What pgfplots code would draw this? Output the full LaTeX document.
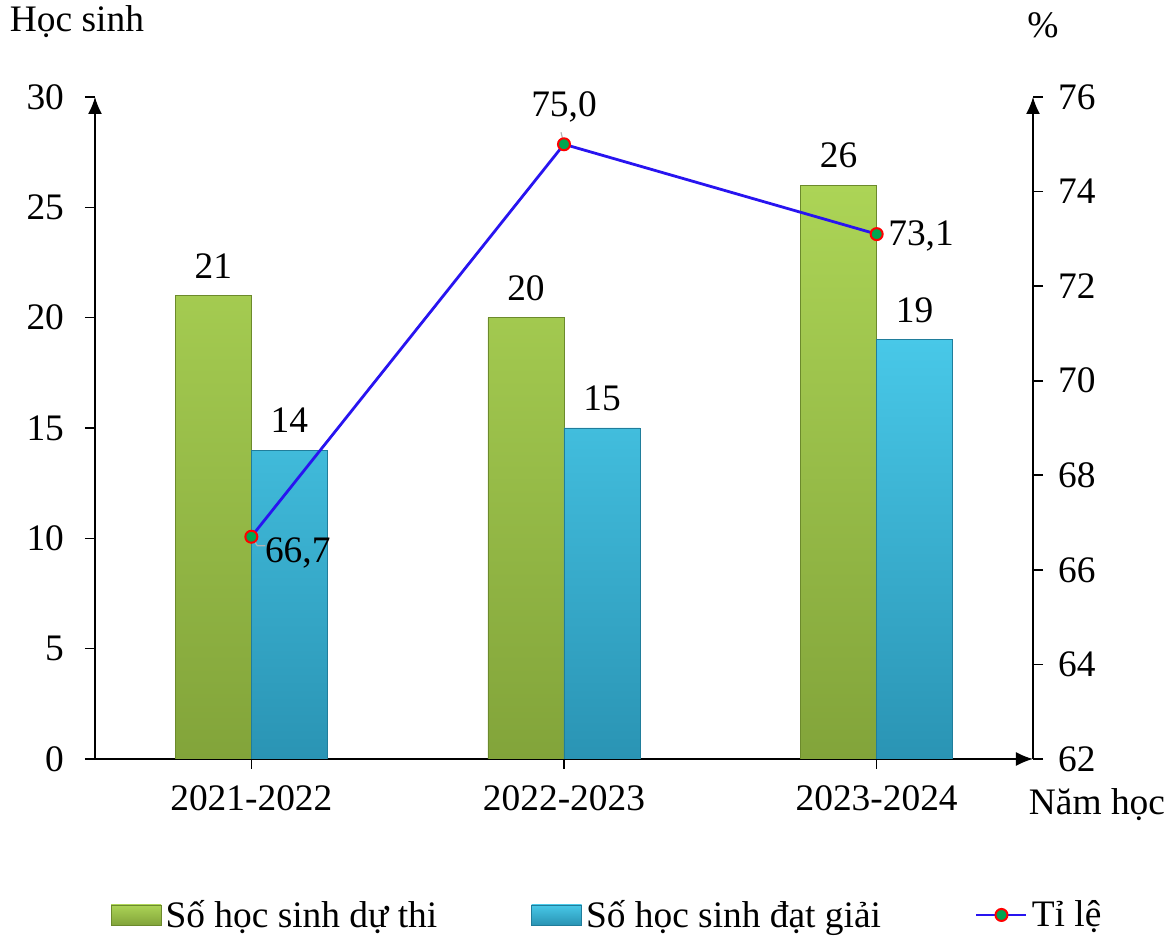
\documentclass[border=0pt]{standalone}
\usepackage{fontspec}
\setmainfont{Liberation Serif}
\usepackage{pgfplots}
\pgfplotsset{compat=1.18}
\usetikzlibrary{arrows.meta}
\definecolor{gtop}{RGB}{172,212,86}
\definecolor{gbot}{RGB}{130,164,58}
\definecolor{gedge}{RGB}{108,138,44}
\definecolor{btop}{RGB}{72,200,232}
\definecolor{bbot}{RGB}{42,148,180}
\definecolor{bedge}{RGB}{32,125,155}
\definecolor{lineblue}{RGB}{40,20,240}
\definecolor{mkgreen}{RGB}{0,165,80}
\newcommand\fs{\fontsize{18.7}{22}\selectfont}
\pgfplotsset{
  mybarlegend/.style={legend image code/.code={\draw[##1,/tikz/.cd] (0pt,-5pt) rectangle (25pt,5pt);}},
}
\begin{document}
\begin{tikzpicture}
\begin{axis}[name=ax,
  scale only axis, width=469pt, height=331pt,
  xmin=-0.5, xmax=2.5, ymin=0, ymax=30,
  axis x line*=bottom, axis y line*=left,
  x axis line style={line width=0.8pt,-{Latex[length=8.5pt,width=7pt]}},
  y axis line style={line width=0.8pt,-{Latex[length=8.5pt,width=7pt]}},
  xtick={0,1,2}, xticklabels={2021-2022,2022-2023,2023-2024},
  ytick={0,5,...,30},
  tick align=outside, major tick length=5pt,
  tick style={black, line width=0.8pt},
  /pgf/number format/assume math mode=true,
  tick label style={font=\fs},
  yticklabel style={xshift=-7pt},
  xticklabel style={yshift=-5pt},
  ybar=0pt, bar width=38pt,
  nodes near coords,
  every node near coord/.append style={font=\fs, yshift=5pt, black},
  xlabel={Năm học}, ylabel={Học sinh},
  every axis x label/.style={at={(axis description cs:1,0)}, anchor=center, xshift=32pt, yshift=-23pt, font=\fs},
  every axis y label/.style={at={(axis description cs:0,1)}, anchor=center, xshift=-9pt, yshift=37.5pt, font=\fs},
  legend style={at={(axis description cs:0.01,-0.2356)}, anchor=west, draw=none, font=\fs,
    /tikz/every even column/.append style={column sep=45pt}},
  legend columns=3, legend cell align=left,
]
\addplot[mybarlegend, draw=gedge, top color=gtop, bottom color=gbot] coordinates {(0,21) (1,20) (2,26)};
\addlegendentry{Số học sinh dự thi}
\addplot[mybarlegend, draw=bedge, top color=btop, bottom color=bbot] coordinates {(0,14) (1,15) (2,19)};
\addlegendentry{Số học sinh đạt giải}
\addlegendimage{legend image code/.code={
  \draw[lineblue, line width=1.4pt] (0pt,0pt) -- (25pt,0pt);
  \draw[red, fill=mkgreen, line width=1pt] (12.5pt,0pt) circle (3pt);}}
\addlegendentry{Tỉ lệ}
\end{axis}
\begin{axis}[
  scale only axis, width=469pt, height=331pt,
  xmin=-0.5, xmax=2.5, ymin=62, ymax=76,
  axis y line*=right, axis x line=none,
  y axis line style={line width=0.8pt,-{Latex[length=8.5pt,width=7pt]}},
  ytick={62,64,...,76},
  tick align=outside, major tick length=5pt,
  tick style={black, line width=0.8pt},
  /pgf/number format/assume math mode=true,
  tick label style={font=\fs},
  yticklabel style={xshift=4pt},
  ylabel={\%},
  every axis y label/.style={at={(axis description cs:1,1)}, anchor=center, xshift=5pt, yshift=36pt, font=\fs},
]
\addplot[lineblue, line width=1.4pt, mark=*, mark size=3pt,
  mark options={draw=red, fill=mkgreen, line width=1pt},
  nodes near coords, point meta=explicit symbolic,
  every node near coord/.append style={font=\fs, black},
  coordinate style/.condition={x==0}{anchor=west, xshift=3pt, yshift=-8pt},
  coordinate style/.condition={x==1}{anchor=center, yshift=18.5pt},
  coordinate style/.condition={x==2}{anchor=west, xshift=2pt, yshift=-1pt},
] table[meta=lab] {
x y lab
0 66.7 66,7
1 75.0 75,0
2 73.1 73,1
};
\draw[gray!60, line width=0.6pt] (axis cs:0,66.7) -- ++(3pt,-4.5pt) -- ++(4pt,0pt);
\draw[gray!60, line width=0.6pt] (axis cs:1,75.0) -- ++(-1.5pt,6pt);
\end{axis}
\pgfresetboundingbox
\path (-47.5pt,-88.5pt) rectangle (539.5pt,379.5pt);
\end{tikzpicture}
\end{document}
